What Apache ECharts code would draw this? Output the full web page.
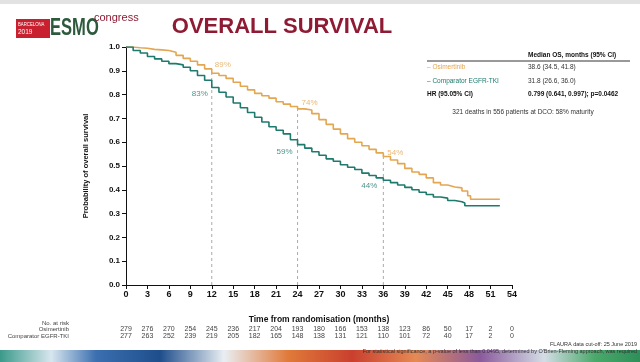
<!DOCTYPE html>
<html><head><meta charset="utf-8">
<script src="https://cdn.jsdelivr.net/npm/echarts@6/dist/echarts.min.js"></script>
<style>html,body{margin:0;padding:0;background:#fff}#c{width:640px;height:362px}</style>
</head><body><div id="c"></div>
<script>
var xTicks = [0,3,6,9,12,15,18,21,24,27,30,33,36,39,42,45,48,51,54];
var riskOsi = [279,276,270,254,245,236,217,204,193,180,166,153,138,123,86,50,17,2,0];
var riskCmp = [277,263,252,239,219,205,182,165,148,138,131,121,110,101,72,40,17,2,0];
var osiMonths = [0,1,2,3,4,5,6,7,8,9,10,11,12,13,14,15,16,17,18,19,20,21,22,23,24,25,26,27,28,29,30,31,32,33,34,35,36,37,38,39,40,41,42,43,44,45,46,47,47.8,48.2,52.3];
var osiSurv = [1.0,0.997,0.995,0.99,0.988,0.985,0.978,0.965,0.952,0.94,0.925,0.908,0.89,0.88,0.868,0.852,0.835,0.82,0.805,0.795,0.785,0.77,0.76,0.75,0.74,0.735,0.72,0.695,0.675,0.655,0.635,0.615,0.6,0.585,0.57,0.555,0.54,0.525,0.51,0.49,0.475,0.465,0.45,0.43,0.42,0.412,0.408,0.395,0.375,0.36,0.36];
var cmpMonths = [0,1,2,3,4,5,6,7,8,9,10,11,12,13,14,15,16,17,18,19,20,21,22,23,24,25,26,27,28,29,30,31,32,33,34,35,36,37,38,39,40,41,42,43,44,45,46,47,47.4,52.3];
var cmpSurv = [1.0,0.985,0.975,0.96,0.95,0.94,0.93,0.925,0.915,0.9,0.88,0.86,0.83,0.81,0.79,0.765,0.745,0.725,0.705,0.685,0.665,0.65,0.635,0.61,0.59,0.575,0.56,0.545,0.53,0.52,0.505,0.495,0.485,0.47,0.46,0.45,0.44,0.43,0.42,0.41,0.4,0.39,0.38,0.37,0.365,0.355,0.35,0.345,0.333,0.333];
var osiCensor = [[48.6,0.36],[49.3,0.36],[50.2,0.36],[51.0,0.36],[51.8,0.36]];
var cmpCensor = [[44.2,0.365],[45.6,0.355],[48.2,0.333],[49.0,0.333],[49.8,0.333],[50.4,0.333],[51.5,0.333]];
var landmarks = [12,24,36];
var landmarkOsi = [0.89,0.74,0.54];
var landmarkCmp = [0.83,0.59,0.44];
var osiLabels = ['89%','74%','54%'];
var cmpLabels = ['83%','59%','44%'];

var ORANGE = '#E3A651', TEAL = '#1D7A6C';
var FONT = '"Liberation Sans Narrow","Liberation Sans",Arial,sans-serif';

function zip(a,b){return a.map(function(v,i){return [v,b[i]];});}
var chart = echarts.init(document.getElementById('c'), null, {renderer:'canvas'});
var series = [];
landmarks.forEach(function(m,i){
  series.push({type:'line',data:[[m,0],[m,landmarkOsi[i]]],symbol:'none',silent:true,
    lineStyle:{color:'#aaa',width:1,type:[3,3]},z:1});
});
series.push({name:'Osimertinib',type:'line',step:'end',data:zip(osiMonths,osiSurv),symbol:'none',lineStyle:{color:ORANGE,width:1.6},z:3});
series.push({name:'Comparator EGFR-TKI',type:'line',step:'end',data:zip(cmpMonths,cmpSurv),symbol:'none',lineStyle:{color:TEAL,width:1.6},z:4});
series.push({type:'scatter',data:osiCensor,symbol:'path://M5,0L5,10',symbolSize:[1,5],itemStyle:{color:ORANGE,borderColor:ORANGE,borderWidth:1},z:3});
series.push({type:'scatter',data:cmpCensor,symbol:'path://M5,0L5,10',symbolSize:[1,5],itemStyle:{color:TEAL,borderColor:TEAL,borderWidth:1},z:4});
var osiOff=[[11,-8],[12,-6],[12,-4]], cmpOff=[[-12,6],[-13,7],[-14,6]];
series.push({type:'scatter',symbolSize:0,data:landmarks.map(function(m,i){return {value:[m,landmarkOsi[i]],label:{formatter:osiLabels[i],offset:osiOff[i]}};}),
  label:{show:true,position:'inside',color:ORANGE,fontSize:8,fontFamily:FONT},z:5});
series.push({type:'scatter',symbolSize:0,data:landmarks.map(function(m,i){return {value:[m,landmarkCmp[i]],label:{formatter:cmpLabels[i],offset:cmpOff[i]}};}),
  label:{show:true,position:'inside',color:TEAL,fontSize:8,fontFamily:FONT},z:5});

chart.setOption({
  animation:false,
  grid:{left:126,right:128,top:47,bottom:77,containLabel:false},
  xAxis:{type:'value',min:0,max:54,interval:3,
    axisLine:{lineStyle:{color:'#111',width:1}},axisTick:{length:4,lineStyle:{color:'#111'}},
    axisLabel:{color:'#111',fontSize:9,fontWeight:'bold',fontFamily:FONT,margin:5},
    splitLine:{show:false},
    name:'Time from randomisation (months)',nameLocation:'middle',nameGap:30,
    nameTextStyle:{color:'#111',fontSize:8.5,fontWeight:'bold',fontFamily:FONT}},
  yAxis:{type:'value',min:0,max:1,interval:0.1,
    axisLine:{show:true,lineStyle:{color:'#111',width:1}},axisTick:{show:true,length:4,lineStyle:{color:'#111'}},
    axisLabel:{color:'#111',fontSize:8,fontWeight:'bold',fontFamily:FONT,margin:6,formatter:function(v){return v.toFixed(1);}},
    splitLine:{show:false},
    name:'Probability of overall survival',nameLocation:'middle',nameGap:36,nameRotate:90,
    nameTextStyle:{color:'#111',fontSize:7.5,fontWeight:'bold',fontFamily:FONT}},
  series:series
});

var g = [];
g.push({type:'rect',shape:{x:0,y:0,width:640,height:4},style:{fill:'#e2e2e2'},silent:true});
g.push({type:'rect',shape:{x:0,y:350,width:640,height:12},silent:true,style:{fill:new echarts.graphic.LinearGradient(0,0,1,0,[
  {offset:0,color:'#3a9a8a'},{offset:0.08,color:'#d8e6ee'},{offset:0.15,color:'#3b6fb0'},{offset:0.25,color:'#1f4e8c'},
  {offset:0.35,color:'#e9eef2'},{offset:0.45,color:'#e07a3a'},{offset:0.55,color:'#c9402e'},{offset:0.65,color:'#e58a55'},
  {offset:0.75,color:'#8a5a9c'},{offset:0.85,color:'#d4dde6'},{offset:0.93,color:'#4aa86a'},{offset:1,color:'#2e8f5a'}])}});
// logo
g.push({type:'rect',shape:{x:16,y:19,width:34,height:19},style:{fill:'#c8202f'},silent:true});
g.push({type:'text',x:18,y:21,scaleX:0.78,style:{text:'BARCELONA',fill:'#fff',fontSize:5.5,fontFamily:FONT}});
g.push({type:'text',x:18,y:29,style:{text:'2019',fill:'#fff',fontSize:6.5,fontFamily:FONT}});
g.push({type:'text',x:50,y:17,scaleX:0.72,style:{text:'ESMO',fill:'#2d5a3d',fontSize:23,fontWeight:'bold',fontFamily:FONT}});
g.push({type:'text',x:94,y:12,style:{text:'congress',fill:'#8e1b33',fontSize:11,fontFamily:FONT}});
// title
g.push({type:'text',x:282,y:27,style:{text:'OVERALL SURVIVAL',fill:'#8e1b33',fontSize:22,fontWeight:'bold',fontFamily:'"Liberation Sans",Arial,sans-serif',align:'center',verticalAlign:'middle'}});
// legend table
g.push({type:'text',x:528,y:55,style:{text:'Median OS, months (95% CI)',fill:'#111',fontSize:6.5,fontWeight:'bold',fontFamily:FONT,verticalAlign:'middle'}});
g.push({type:'line',shape:{x1:427,y1:61,x2:630,y2:61},style:{stroke:'#333',lineWidth:1}});
g.push({type:'text',x:427,y:67,style:{text:'– Osimertinib',fill:ORANGE,fontSize:6.5,fontFamily:FONT,verticalAlign:'middle'}});
g.push({type:'text',x:528,y:67,style:{text:'38.6 (34.5, 41.8)',fill:'#333',fontSize:6.5,fontFamily:FONT,verticalAlign:'middle'}});
g.push({type:'text',x:427,y:81,style:{text:'– Comparator EGFR-TKI',fill:TEAL,fontSize:6.5,fontFamily:FONT,verticalAlign:'middle'}});
g.push({type:'text',x:528,y:81,style:{text:'31.8 (26.6, 36.0)',fill:'#333',fontSize:6.5,fontFamily:FONT,verticalAlign:'middle'}});
g.push({type:'text',x:427,y:94,style:{text:'HR (95.05% CI)',fill:'#111',fontSize:6.5,fontWeight:'bold',fontFamily:FONT,verticalAlign:'middle'}});
g.push({type:'text',x:528,y:94,style:{text:'0.799 (0.641, 0.997); p=0.0462',fill:'#111',fontSize:6.5,fontWeight:'bold',fontFamily:FONT,verticalAlign:'middle'}});
g.push({type:'text',x:523,y:112,style:{text:'321 deaths in 556 patients at DCO: 58% maturity',fill:'#333',fontSize:6.5,fontFamily:FONT,align:'center',verticalAlign:'middle'}});
// risk table
g.push({type:'text',x:69,y:323,style:{text:'No. at risk',fill:'#444',fontSize:6,fontFamily:FONT,align:'right',verticalAlign:'middle'}});
g.push({type:'text',x:69,y:329.5,style:{text:'Osimertinib',fill:'#444',fontSize:6,fontFamily:FONT,align:'right',verticalAlign:'middle'}});
g.push({type:'text',x:69,y:336.5,style:{text:'Comparator EGFR-TKI',fill:'#444',fontSize:6,fontFamily:FONT,align:'right',verticalAlign:'middle'}});
xTicks.forEach(function(m,i){
  var px = chart.convertToPixel({xAxisIndex:0},m);
  g.push({type:'text',x:px,y:329.5,style:{text:String(riskOsi[i]),fill:'#444',fontSize:7,fontFamily:FONT,align:'center',verticalAlign:'middle'}});
  g.push({type:'text',x:px,y:336.5,style:{text:String(riskCmp[i]),fill:'#444',fontSize:7,fontFamily:FONT,align:'center',verticalAlign:'middle'}});
});
// footer
g.push({type:'text',x:637,y:344,style:{text:'FLAURA data cut-off: 25 June 2019',fill:'#333',fontSize:5.5,fontFamily:FONT,align:'right',verticalAlign:'middle'}});
g.push({type:'text',x:637,y:351,style:{text:'For statistical significance, a p-value of less than 0.0495, determined by O\'Brien-Fleming approach, was required',fill:'#333',fontSize:5.5,fontFamily:FONT,align:'right',verticalAlign:'middle'}});
chart.setOption({graphic:{elements:g}});
</script></body></html>
